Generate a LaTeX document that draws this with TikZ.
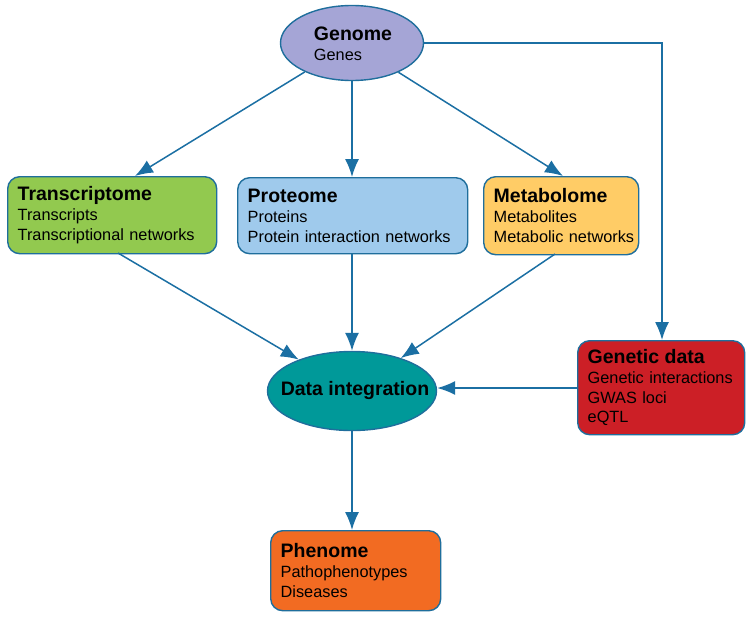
\documentclass[tikz,border=0pt]{standalone}
\usepackage{fontspec}
\setmainfont{Liberation Sans}
\usetikzlibrary{shapes.geometric,arrows.meta}
\definecolor{bord}{HTML}{1F6E9C}
\definecolor{arr}{HTML}{1B6FA3}
\definecolor{cgen}{HTML}{A5A5D6}
\definecolor{ctra}{HTML}{92C94F}
\definecolor{cpro}{HTML}{9FCAEC}
\definecolor{cmet}{HTML}{FFCC66}
\definecolor{cgd}{HTML}{CC1F26}
\definecolor{cdi}{HTML}{009999}
\definecolor{cphe}{HTML}{F26B22}
\tikzset{
  body/.style={font=\fontsize{16.3}{19.8}\selectfont},
  box/.style={body, draw=bord, line width=1.4pt, rounded corners=12pt, align=left, anchor=north west, inner xsep=10pt, inner ysep=0pt},
  ell/.style={ellipse, draw=bord, line width=1.4pt, inner sep=0pt},
  conn/.style={draw=arr, line width=1.5pt, -{Latex[length=18pt,width=14pt]}},
}
\newcommand{\ttl}[1]{{\fontsize{19.5}{21}\selectfont\bfseries #1}}
\begin{document}
\begin{tikzpicture}[x=1pt,y=-1pt]
\useasboundingbox (0,0) rectangle (751,618);
\node[ell, fill=cgen, minimum width=143pt, minimum height=75pt] (gen) at (352,43) {};
\node[body, align=left, inner sep=0pt] (gent) at (353,44) {\ttl{Genome}\\Genes};
\node[box, fill=ctra, minimum width=209pt, minimum height=77pt, text width=189pt] (tra) at (7,176) {\ttl{Transcriptome}\\Transcripts\\Transcriptional networks};
\node[box, fill=cpro, minimum width=230pt, minimum height=76pt, text width=210pt] (pro) at (237,177) {\ttl{Proteome}\\Proteins\\Protein interaction networks};
\node[box, fill=cmet, minimum width=155pt, minimum height=78pt, text width=135pt] (met) at (483,176) {\ttl{Metabolome}\\Metabolites\\\mbox{Metabolic networks}};
\node[box, fill=cgd, minimum width=167pt, minimum height=94pt, text width=147pt] (gd) at (577,340) {\ttl{Genetic data}\\Genetic interactions\\GWAS loci\\eQTL};
\node[ell, fill=cdi, minimum width=169pt, minimum height=79pt] (di) at (352,391) {};
\node[inner sep=0pt] (dit) at (355,390) {\ttl{Data integration}};
\node[box, fill=cphe, minimum width=170pt, minimum height=80pt, text width=150pt] (phe) at (270,530) {\ttl{Phenome}\\Pathophenotypes\\Diseases};
\coordinate (corner) at (662,43);
\draw[conn] (gen) -- (tra.north -| 135,0);
\draw[conn] (gen) -- (pro.north -| gen);
\draw[conn] (gen) -- (563,176);
\draw[conn] (gen.east) -- (corner) -- (gd.north -| corner);
\draw[conn] (118,253) -- (di);
\draw[conn] (pro.south -| di) -- (di);
\draw[conn] (555,254) -- (di);
\draw[conn] (gd.west |- 0,388) -- (di.east |- 0,388);
\draw[conn] (di) -- (phe.north -| di);
\end{tikzpicture}
\end{document}
